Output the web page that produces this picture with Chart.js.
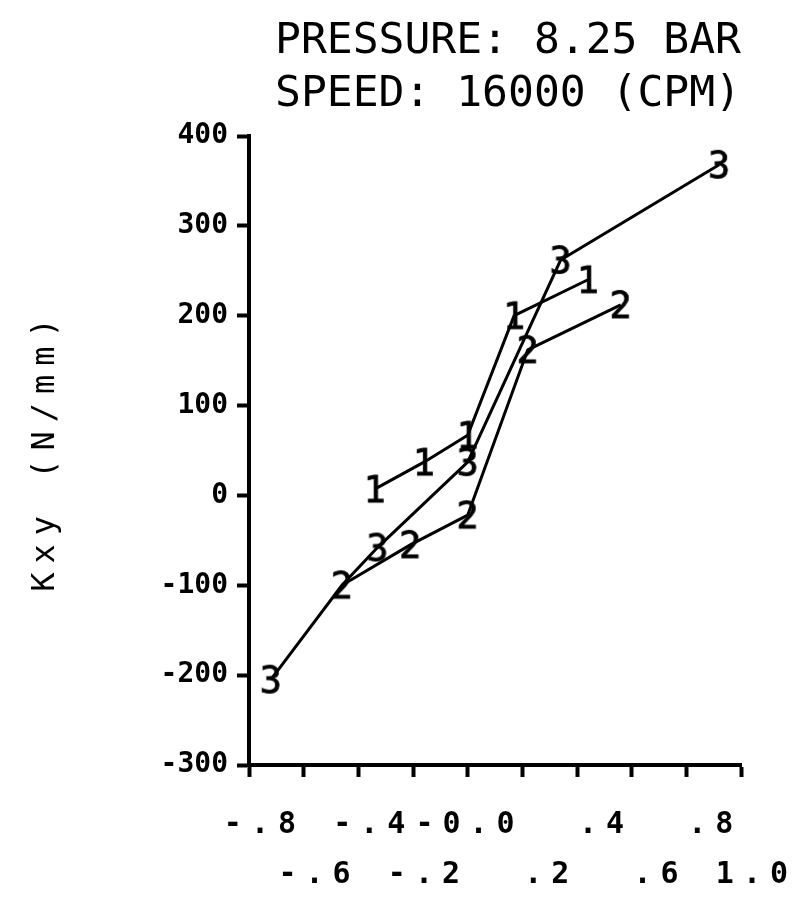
<!DOCTYPE html>
<html>
<head>
<meta charset="utf-8">
<script src="https://cdn.jsdelivr.net/npm/chart.js@4.4.1/dist/chart.umd.min.js"></script>
<style>
    html, body { margin: 0; padding: 0; background: #fff; }
    canvas { display: block; }
</style>
</head>
<body>
<canvas id="kxyChart" width="795" height="905"></canvas>
<script>
// Kxy stiffness against the x value, three runs marked 1, 2, 3
const xTicks = [-0.8, -0.6, -0.4, -0.2, 0.0, 0.2, 0.4, 0.6, 0.8, 1.0];
const xTickLabels = ['-.8', '-.6', '-.4', '-.2', '-0.0', '.2', '.4', '.6', '.8', '1.0'];
const yTicks = [-300, -200, -100, 0, 100, 200, 300, 400];
const yTickLabels = ['-300', '-200', '-100', '0', '100', '200', '300', '400'];

const run1X = [-0.34, -0.16, 0.0, 0.17, 0.44];
const run1Y = [7, 37, 67, 200, 240];
const run2X = [-0.46, -0.21, 0.0, 0.22, 0.56];
const run2Y = [-100, -55, -22, 162, 212];
const run3X = [-0.72, -0.46, -0.33, 0.0, 0.34, 0.92];
const run3Y = [-205, -100, -58, 37, 262, 368];
const runMarks = ['1', '2', '3'];

const MONO = '"DejaVu Sans Mono", "Liberation Mono", monospace';

// plotter style marker: the run number drawn as a small image
function digitMark(ch) {
    const c = document.createElement('canvas');
    c.width = 30;
    c.height = 40;
    const g = c.getContext('2d');
    g.font = '37px ' + MONO;
    g.fillStyle = '#000';
    g.strokeStyle = '#000';
    g.lineWidth = 0.8;
    g.textAlign = 'center';
    g.textBaseline = 'alphabetic';
    g.fillText(ch, 15, 33);
    g.strokeText(ch, 15, 33);
    return c;
}

function toPoints(xs, ys) {
    return xs.map((x, i) => ({ x: x, y: ys[i] }));
}

function runDataset(xs, ys, mark) {
    return {
        label: 'Run ' + mark,
        data: toPoints(xs, ys),
        showLine: true,
        fill: false,
        tension: 0,
        borderColor: '#000',
        borderWidth: 3,
        pointStyle: digitMark(mark),
        pointRadius: 10,
        pointHoverRadius: 10,
        clip: false
    };
}

const run3 = runDataset(run3X, run3Y, runMarks[2]);
// the "2" of run 2 is plotted over run 3's mark at the shared point
run3.pointRadius = (ctx) => (ctx.dataIndex === 1 ? 0 : 10);

// old plotter lettering is wide, give the later texts extra spacing
const spacingPlugin = {
    id: 'plotterSpacing',
    beforeDraw(chart) { chart.ctx.letterSpacing = '0px'; },
    afterDatasetsDraw(chart) { chart.ctx.letterSpacing = '9px'; },
    afterDraw(chart) { chart.ctx.letterSpacing = '0px'; }
};

new Chart(document.getElementById('kxyChart'), {
    type: 'line',
    data: {
        datasets: [
            runDataset(run1X, run1Y, runMarks[0]),
            runDataset(run2X, run2Y, runMarks[1]),
            run3
        ]
    },
    plugins: [spacingPlugin],
    options: {
        responsive: false,
        animation: false,
        layout: { padding: { right: 54 } },
        plugins: {
            legend: { display: false },
            tooltip: { enabled: false },
            title: {
                display: true,
                text: ['PRESSURE: 8.25 BAR', 'SPEED: 16000 (CPM)'],
                align: 'end',
                color: '#000',
                font: { family: MONO, size: 43, weight: 'normal', lineHeight: '53px' },
                padding: { top: 15, bottom: 15 }
            }
        },
        scales: {
            x: {
                type: 'linear',
                min: -0.8,
                max: 1.0,
                afterBuildTicks: (s) => { s.ticks = xTicks.map(v => ({ value: v })); },
                afterFit: (s) => { s.height = 140; },
                grid: {
                    drawOnChartArea: false,
                    tickLength: 12,
                    tickWidth: 4,
                    tickColor: '#000'
                },
                border: { display: true, color: '#000', width: 4 },
                ticks: {
                    z: 1,
                    autoSkip: false,
                    maxRotation: 0,
                    minRotation: 0,
                    align: 'end',
                    labelOffset: 56,
                    padding: 23,
                    color: '#000',
                    font: { family: MONO, size: 30, weight: 'bold', lineHeight: '50px' },
                    // labels alternate between two rows
                    callback: (v, i) => (i % 2 === 0 ? [xTickLabels[i], ''] : ['', xTickLabels[i]])
                }
            },
            y: {
                type: 'linear',
                min: -300,
                max: 400,
                afterBuildTicks: (s) => { s.ticks = yTicks.map(v => ({ value: v })); },
                afterFit: (s) => { s.width = 249; },
                grid: {
                    z: 1,
                    drawOnChartArea: false,
                    tickLength: 12,
                    tickWidth: 4,
                    tickColor: '#000'
                },
                // border after the grid layer, it needs the grid's position
                border: { display: true, color: '#000', width: 4, z: 1 },
                ticks: {
                    padding: 9,
                    color: '#000',
                    font: { family: MONO, size: 28, weight: 'bold' },
                    callback: (v, i) => yTickLabels[i]
                },
                title: {
                    display: true,
                    text: 'Kxy (N/mm)',
                    color: '#000',
                    font: { family: MONO, size: 32, weight: 'normal' },
                    padding: { top: 26, bottom: 0 }
                }
            }
        }
    }
});
</script>
</body>
</html>
